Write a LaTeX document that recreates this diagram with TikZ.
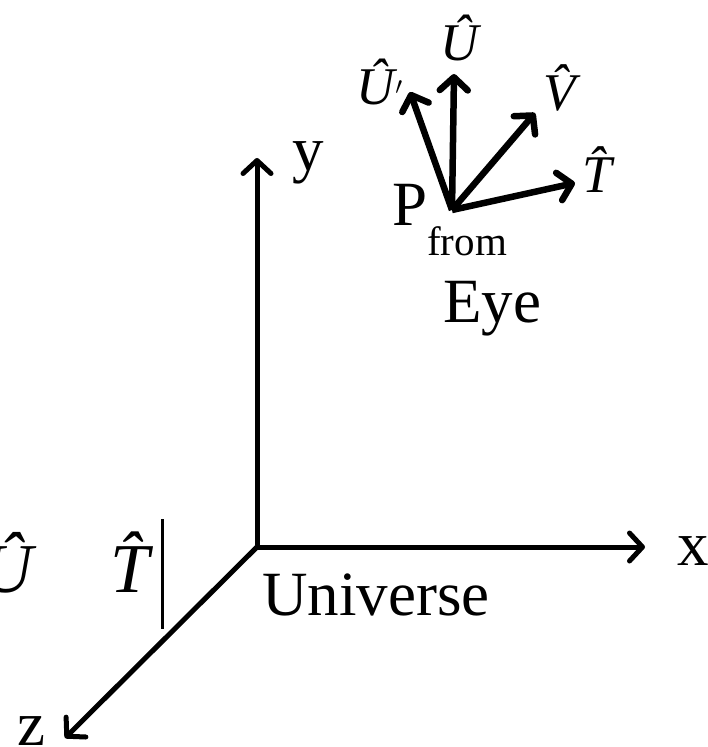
\documentclass[tikz,border=0pt]{standalone}
\usepackage{fontspec}
\setmainfont{Liberation Serif}
\usetikzlibrary{arrows.meta}

\begin{document}
\begin{tikzpicture}[
  x=1pt,y=-1pt,
  axis/.style={line width=5pt,-{Straight Barb[length=13pt,width=28pt,round]}},
  vec/.style={line width=6.5pt,-{Straight Barb[length=13pt,width=28pt,round]}},
  every node/.style={inner sep=0pt,anchor=base west},
  big/.style={font=\fontsize{63}{70}\selectfont},
  mbig/.style={font=\fontsize{70}{78}\selectfont\itshape},
  msmall/.style={font=\fontsize{53}{60}\selectfont\itshape}
]
  \useasboundingbox (0,0) rectangle (707,747);

  \coordinate (origin) at (257,547);
  \coordinate (xend) at (645,547);
  \coordinate (yend) at (257,158);
  \coordinate (zend) at (65,738);
  \draw[axis] (origin) -- (xend);
  \draw[axis] (origin) -- (yend);
  \draw[axis] (origin) -- (zend);

  \node[big] (xlabel) at (677,565) {x};
  \node[big] (ylabel) at (292,170) {y};
  \node[big] (zlabel) at (17,745) {z};
  \node[big] (universe) at (262,615) {Universe};

  \coordinate (eye) at (452,210);
  \coordinate (uprime) at (410,92);
  \coordinate (uup) at (454,74);
  \coordinate (vdir) at (535,113);
  \coordinate (tdir) at (575,183);
  \draw[vec] (eye) -- (uprime);
  \draw[vec] (eye) -- (uup);
  \draw[vec] (eye) -- (vdir);
  \draw[vec] (eye) -- (tdir);

  \node[big] (pfrom) at (392,225) {P\raisebox{-30pt}{\fontsize{41}{41}\selectfont from}};
  \node[big] (eyelabel) at (443,322) {Eye};

  \node[msmall] (ulabel) at (440,60) {Û};
  \node[msmall] (uprimelabel) at (356,104) {Û\kern1pt$'$};
  \node[msmall] (vlabel) at (543,110) {\^V};
  \node[msmall] (tlabel) at (582,192) {\^T};

  \node[mbig] (uleft) at (-18,592) {Û};
  \node[mbig] (tleft) at (110,592) {\^T};
  \coordinate (bartop) at (162,519);
  \coordinate (barbot) at (162,629);
  \draw[line width=3pt] (bartop) -- (barbot);
\end{tikzpicture}
\end{document}
